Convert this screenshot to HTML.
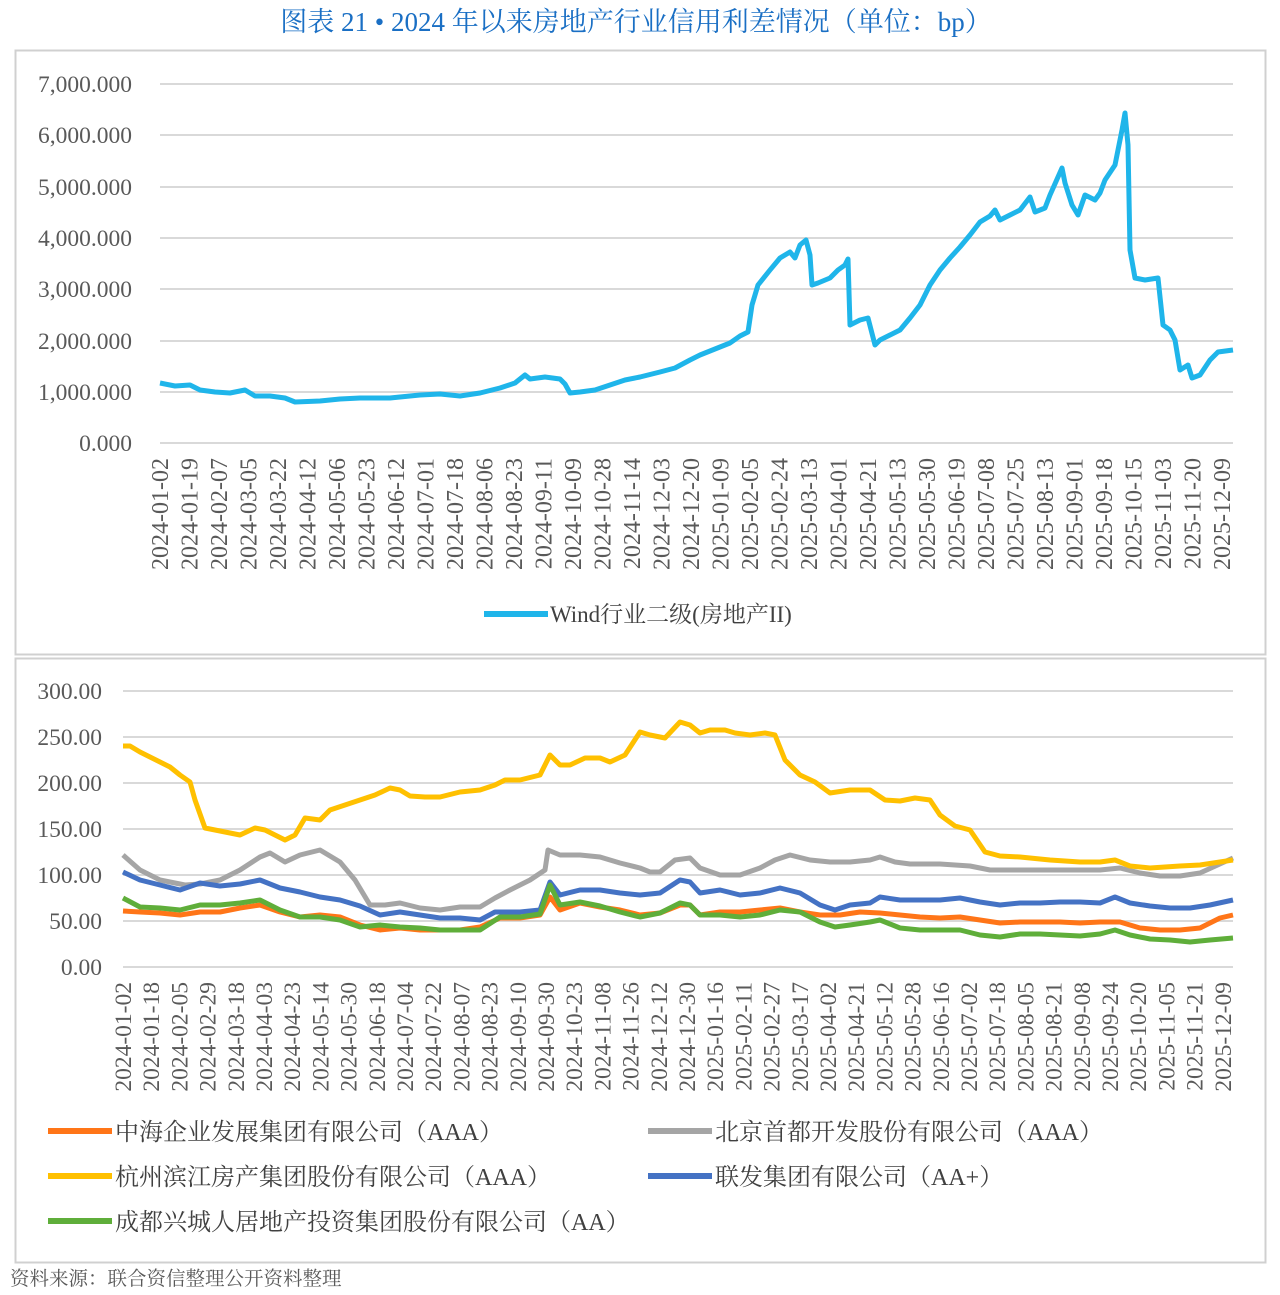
<!DOCTYPE html><html><head><meta charset="utf-8"><style>body{margin:0;background:#fff}svg{display:block}text{font-family:"Liberation Serif","Noto Serif CJK SC",serif}</style></head><body>
<svg width="1280" height="1295" xmlns="http://www.w3.org/2000/svg">
<text x="636" y="31" text-anchor="middle" font-size="27" fill="#1a6fc4">图表 21 • 2024 年以来房地产行业信用利差情况（单位：bp）</text>
<rect x="15.5" y="50.5" width="1250" height="604" fill="none" stroke="#d0d0d0" stroke-width="2"/>
<rect x="15.5" y="658.5" width="1250" height="604" fill="none" stroke="#d0d0d0" stroke-width="2"/>
<g stroke="#d9d9d9" stroke-width="2">
<line x1="160" x2="1233" y1="84" y2="84"/><line x1="160" x2="1233" y1="135" y2="135"/><line x1="160" x2="1233" y1="187" y2="187"/><line x1="160" x2="1233" y1="238" y2="238"/><line x1="160" x2="1233" y1="289" y2="289"/><line x1="160" x2="1233" y1="341" y2="341"/><line x1="160" x2="1233" y1="392" y2="392"/><line x1="160" x2="1233" y1="443" y2="443"/>
<line x1="123" x2="1233" y1="691" y2="691"/><line x1="123" x2="1233" y1="737" y2="737"/><line x1="123" x2="1233" y1="783" y2="783"/><line x1="123" x2="1233" y1="829" y2="829"/><line x1="123" x2="1233" y1="875" y2="875"/><line x1="123" x2="1233" y1="921" y2="921"/><line x1="123" x2="1233" y1="967" y2="967"/>
</g>
<g font-size="23.5" fill="#595959" text-anchor="end">
<text x="132" y="92">7,000.000</text><text x="132" y="143">6,000.000</text><text x="132" y="195">5,000.000</text><text x="132" y="246">4,000.000</text><text x="132" y="297">3,000.000</text><text x="132" y="349">2,000.000</text><text x="132" y="400">1,000.000</text><text x="132" y="451">0.000</text>
<text x="102" y="699">300.00</text><text x="102" y="745">250.00</text><text x="102" y="791">200.00</text><text x="102" y="837">150.00</text><text x="102" y="883">100.00</text><text x="102" y="929">50.00</text><text x="102" y="975">0.00</text>
</g>
<g fill="#595959" text-anchor="end" id="xt"></g>
<polyline fill="none" stroke="#1fb5ea" stroke-width="5" stroke-linejoin="round" points="160,383 175,386 190,385 200,390 215,392 230,393 245,390 255,396 270,396 285,398 295,402 320,401 340,399 360,398 390,398 420,395 440,394 460,396 480,393 500,388 515,383 525,375 530,379 545,377 560,379 565,384 570,393 580,392 595,390 610,385 625,380 640,377 660,372 675,368 690,360 700,355 710,351 730,343 740,336 748,332 752,305 758,285 770,270 780,258 790,252 795,258 800,245 806,240 810,255 812,285 818,283 830,278 838,270 845,265 848,259 850,325 860,320 868,318 875,345 880,340 890,335 900,330 910,318 920,305 930,285 940,270 950,258 960,247 970,235 980,222 990,216 995,210 1000,220 1010,215 1020,210 1030,197 1035,212 1045,208 1050,195 1062,168 1065,183 1072,205 1078,215 1085,195 1095,200 1100,193 1105,180 1115,165 1122,130 1125,113 1128,145 1130,250 1135,278 1145,280 1158,278 1163,325 1170,330 1175,340 1180,370 1188,365 1192,378 1200,375 1210,360 1218,352 1233,350"/>
<g fill="none" stroke-width="5" stroke-linejoin="round">
<polyline stroke="#a5a5a5" points="123,855 140,870 160,880 185,885 200,884 220,880 240,870 260,857 270,853 285,862 300,855 320,850 340,862 355,880 370,905 385,905 400,903 420,908 440,910 460,907 480,907 495,898 510,890 530,880 545,870 548,850 560,855 580,855 600,857 620,863 640,868 650,872 660,872 675,860 690,858 700,868 720,875 740,875 760,868 775,860 790,855 810,860 830,862 850,862 870,860 880,857 895,862 910,864 940,864 970,866 990,870 1010,870 1040,870 1070,870 1100,870 1120,868 1140,873 1160,876 1180,876 1200,873 1233,858"/>
<polyline stroke="#ffc000" points="123,746 130,746 140,752 150,757 160,762 170,767 180,775 190,782 195,800 205,828 215,830 225,832 240,835 255,828 265,830 275,835 285,840 295,835 305,818 320,820 330,810 345,805 360,800 375,795 390,788 400,790 410,796 425,797 440,797 460,792 480,790 495,785 505,780 520,780 540,775 550,755 560,765 570,765 585,758 600,758 610,762 625,755 640,732 650,735 665,738 680,722 690,725 700,733 710,730 725,730 735,733 750,735 765,733 775,735 785,760 800,775 815,782 830,793 850,790 870,790 885,800 900,801 915,798 930,800 940,815 955,826 970,830 985,852 1000,856 1020,857 1050,860 1080,862 1100,862 1115,860 1130,866 1150,868 1180,866 1200,865 1233,860"/>
<polyline stroke="#4472c4" points="123,872 140,880 160,885 180,890 200,883 220,886 240,884 260,880 280,888 300,892 320,897 340,900 360,906 380,915 400,912 420,915 440,918 460,918 480,920 495,912 520,912 540,910 550,882 560,895 580,890 600,890 620,893 640,895 660,893 680,880 690,882 700,893 720,890 740,895 760,893 780,888 800,893 820,905 835,910 850,905 870,903 880,897 900,900 920,900 940,900 960,898 980,902 1000,905 1020,903 1040,903 1060,902 1080,902 1100,903 1115,897 1130,903 1150,906 1170,908 1190,908 1210,905 1233,900"/>
<polyline stroke="#ff7518" points="123,911 140,912 160,913 180,915 200,912 220,912 240,908 260,905 280,912 300,917 320,915 340,917 360,925 380,930 400,928 420,930 440,930 460,930 480,927 500,918 520,918 540,915 550,897 560,910 580,903 600,907 620,910 640,915 660,913 680,905 690,905 700,915 720,912 740,912 760,910 780,908 800,912 820,915 840,915 860,912 880,913 900,915 920,917 940,918 960,917 980,920 1000,923 1020,922 1040,922 1060,922 1080,923 1100,922 1120,922 1140,928 1160,930 1180,930 1200,928 1220,918 1233,915"/>
<polyline stroke="#5fae3a" points="123,898 140,907 160,908 180,910 200,905 220,905 240,903 260,900 280,910 300,917 320,917 340,920 360,927 380,925 400,927 420,928 440,930 460,930 480,930 500,917 520,917 540,914 550,885 560,905 580,902 600,906 620,912 640,917 660,913 680,903 690,905 700,915 720,915 740,917 760,915 780,910 800,912 820,922 835,927 850,925 870,922 880,920 900,928 920,930 940,930 960,930 980,935 1000,937 1020,934 1040,934 1060,935 1080,936 1100,934 1115,930 1130,935 1150,939 1170,940 1190,942 1210,940 1233,938"/>
</g>
<line x1="484" x2="548" y1="614" y2="614" stroke="#1fb5ea" stroke-width="6"/>
<text x="550" y="622" font-size="23" fill="#404040">Wind行业二级(房地产II)</text>
<g font-size="24" fill="#404040" stroke-width="6">
<line x1="48" x2="112" y1="1131" y2="1131" stroke="#ff7518"/><text x="115" y="1140">中海企业发展集团有限公司（AAA）</text>
<line x1="648" x2="712" y1="1131" y2="1131" stroke="#a5a5a5"/><text x="715" y="1140">北京首都开发股份有限公司（AAA）</text>
<line x1="48" x2="112" y1="1176" y2="1176" stroke="#ffc000"/><text x="115" y="1185">杭州滨江房产集团股份有限公司（AAA）</text>
<line x1="648" x2="712" y1="1176" y2="1176" stroke="#4472c4"/><text x="715" y="1185">联发集团有限公司（AA+）</text>
<line x1="48" x2="112" y1="1221" y2="1221" stroke="#5fae3a"/><text x="115" y="1230">成都兴城人居地产投资集团股份有限公司（AA）</text>
</g>
<text x="10" y="1285" font-size="19.5" fill="#595959">资料来源：联合资信整理公开资料整理</text>
</svg>
<script>
const t="2024-01-02 2024-01-19 2024-02-07 2024-03-05 2024-03-22 2024-04-12 2024-05-06 2024-05-23 2024-06-12 2024-07-01 2024-07-18 2024-08-06 2024-08-23 2024-09-11 2024-10-09 2024-10-28 2024-11-14 2024-12-03 2024-12-20 2025-01-09 2025-02-05 2025-02-24 2025-03-13 2025-04-01 2025-04-21 2025-05-13 2025-05-30 2025-06-19 2025-07-08 2025-07-25 2025-08-13 2025-09-01 2025-09-18 2025-10-15 2025-11-03 2025-11-20 2025-12-09".split(" ");
const b="2024-01-02 2024-01-18 2024-02-05 2024-02-29 2024-03-18 2024-04-03 2024-04-23 2024-05-14 2024-05-30 2024-06-18 2024-07-04 2024-07-22 2024-08-07 2024-08-23 2024-09-10 2024-09-30 2024-10-23 2024-11-08 2024-11-26 2024-12-12 2024-12-30 2025-01-16 2025-02-11 2025-02-27 2025-03-17 2025-04-02 2025-04-21 2025-05-12 2025-05-28 2025-06-16 2025-07-02 2025-07-18 2025-08-05 2025-08-21 2025-09-08 2025-09-24 2025-10-20 2025-11-05 2025-11-21 2025-12-09".split(" ");
let g=document.getElementById('xt'),h='';
t.forEach((s,i)=>{let x=160+i*29.5+8;h+=`<text font-size="24" transform="translate(${x},458) rotate(-90)">${s}</text>`});
b.forEach((s,i)=>{let x=123+i*28.2+8;h+=`<text font-size="23.5" transform="translate(${x},982) rotate(-90)">${s}</text>`});
g.innerHTML=h;
</script>
</body></html>
